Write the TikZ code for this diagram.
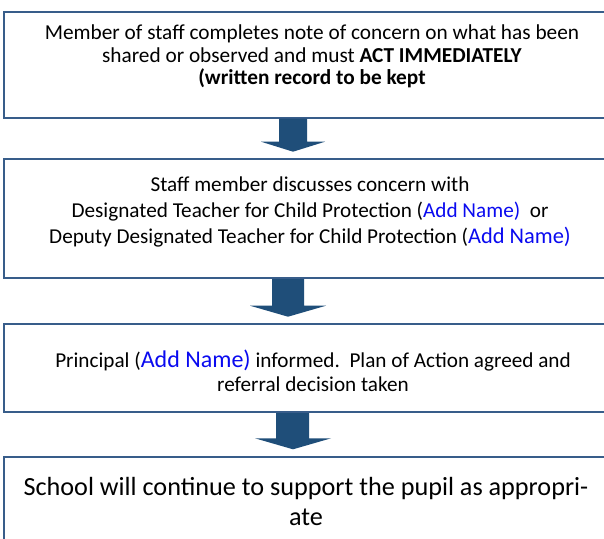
\documentclass[tikz,border=0pt]{standalone}
\usepackage{fontspec}
\setmainfont{Carlito}
\usetikzlibrary{calc}
\definecolor{boxblue}{HTML}{385D8A}
\definecolor{arrowblue}{HTML}{1F4E79}
\definecolor{namecol}{HTML}{0A0AF0}
\begin{document}
\begin{tikzpicture}[x=1pt,y=-1pt,
  box/.style={draw=boxblue, line width=2pt, rectangle, anchor=north west, inner sep=0pt, minimum width=612pt},
  txt/.style={align=center, inner sep=0pt, text=black},
  blockarrow/.style={fill=arrowblue, draw=none}]
\useasboundingbox (0,0) rectangle (604,538);
\fill[white] (0,0) rectangle (604,538);
% boxes
\node[box, minimum height=106pt] (b1) at (3,10.5) {};
\node[box, minimum height=119pt] (b2) at (3,158) {};
\node[box, minimum height=88pt] (b3) at (3,323) {};
\node[box, minimum height=100pt] (b4) at (3,456) {};
% texts
\node[txt, font=\fontsize{21.3}{22.5}\selectfont] (t1) at (312,56.5)
  {Member of staff completes note of concern on what has been\\
   shared or observed and must \textbf{ACT IMMEDIATELY}\\
   \textbf{(written record to be kept}};
\node[txt, font=\fontsize{21.2}{26}\selectfont] (t2) at (310,212)
  {Staff member discusses concern with\\
   Designated Teacher for Child Protection (\textcolor{namecol}{Add Name)}\ \ or\\
   Deputy Designated Teacher for Child Protection (\textcolor{namecol}{\fontsize{22.4}{26}\selectfont Add Name)}};
\node[txt, font=\fontsize{21.2}{24}\selectfont] (t3) at (313,371)
  {Principal (\textcolor{namecol}{\fontsize{24}{24}\selectfont Add Name)} informed.\ \ Plan of Action agreed and\\
   referral decision taken};
\node[txt, font=\fontsize{26.2}{30}\selectfont] (t4) at (306,501)
  {School will continue to support the pupil as appropri-\\ate};
% block arrows (shaft from box above, tip short of box below)
\coordinate (p1) at (293,151.7);
\coordinate (p2) at (288,316.7);
\coordinate (p3) at (293,449.3);
\fill[blockarrow] (279,0 |- b1.south) -- (307,0 |- b1.south) -- (307,141.7) -- (325,141.7)
  -- (p1) -- (261,141.7) -- (279,141.7) -- cycle;
\fill[blockarrow] (272,0 |- b2.south) -- (304,0 |- b2.south) -- (304,305.7) -- (326,305.7)
  -- (p2) -- (250,305.7) -- (272,305.7) -- cycle;
\fill[blockarrow] (276,0 |- b3.south) -- (309,0 |- b3.south) -- (309,438.3) -- (331,438.3)
  -- (p3) -- (255,438.3) -- (276,438.3) -- cycle;
\end{tikzpicture}
\end{document}
